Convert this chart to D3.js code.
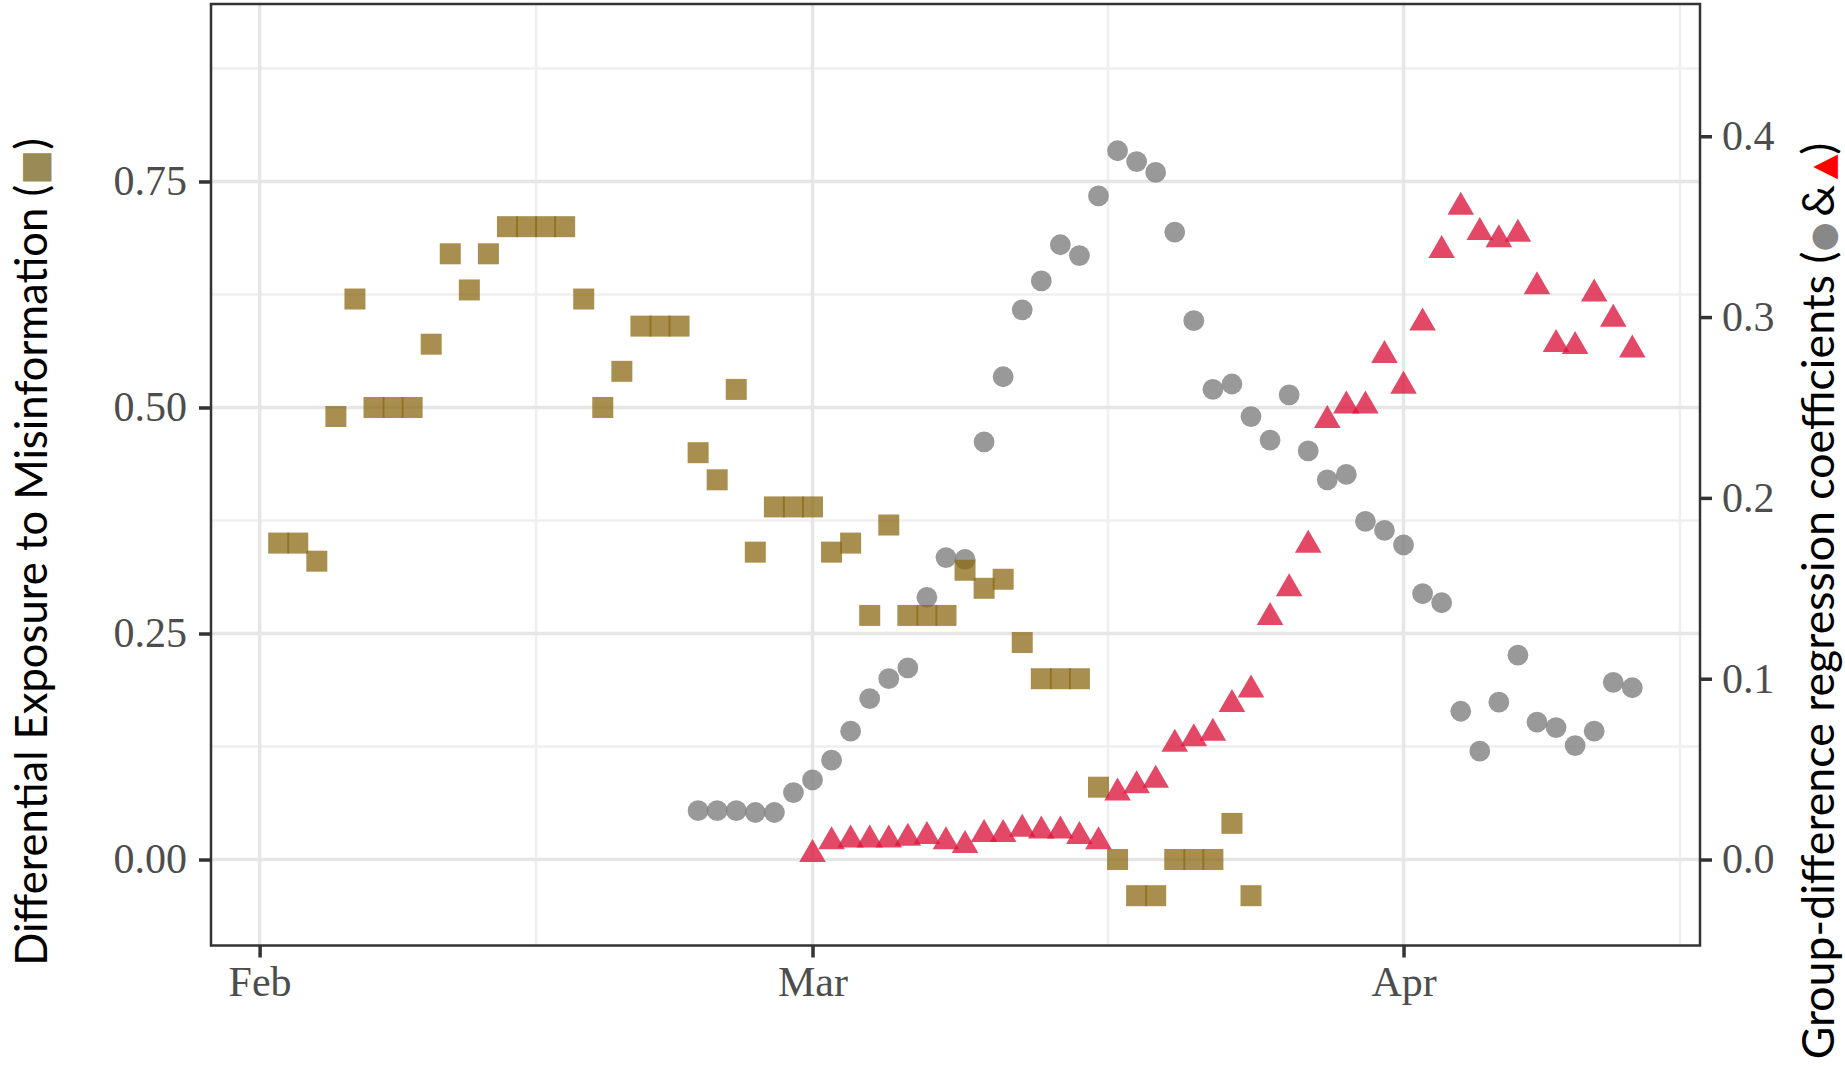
<!DOCTYPE html>
<html>
<head>
<meta charset="utf-8">
<script src="https://cdn.jsdelivr.net/npm/d3@7"></script>
<style>
  body { margin: 0; background: #fff; }
  svg { display: block; }
</style>
</head>
<body>
<div id="chart"></div>
<script>

// ---- data (one point per day) ----
var exposureStart = "2020-02-02";
var exposureValues = [0.35, 0.35, 0.33, 0.49, 0.62, 0.50, 0.50, 0.50, 0.57, 0.67,
    0.63, 0.67, 0.70, 0.70, 0.70, 0.70, 0.62, 0.50, 0.54, 0.59,
    0.59, 0.59, 0.45, 0.42, 0.52, 0.34, 0.39, 0.39, 0.39, 0.34,
    0.35, 0.27, 0.37, 0.27, 0.27, 0.27, 0.32, 0.30, 0.31, 0.24,
    0.20, 0.20, 0.20, 0.08, 0.00, -0.04, -0.04, 0.00, 0.00, 0.00,
    0.04, -0.04];

var greyCoefStart = "2020-02-24";
var greyCoefValues = [0.027, 0.027, 0.027, 0.026, 0.026, 0.037, 0.044, 0.055, 0.071, 0.089,
    0.100, 0.106, 0.145, 0.167, 0.166, 0.231, 0.267, 0.304, 0.320, 0.340,
    0.334, 0.367, 0.392, 0.386, 0.380, 0.347, 0.298, 0.260, 0.263, 0.245,
    0.232, 0.257, 0.226, 0.210, 0.213, 0.187, 0.182, 0.174, 0.147, 0.142,
    0.082, 0.060, 0.087, 0.113, 0.076, 0.073, 0.063, 0.071, 0.098, 0.095];

var redCoefStart = "2020-03-01";
var redCoefValues = [0.005, 0.012, 0.013, 0.013, 0.013, 0.014, 0.015, 0.012, 0.010, 0.016,
    0.016, 0.019, 0.018, 0.018, 0.015, 0.012, 0.039, 0.043, 0.046, 0.066,
    0.069, 0.072, 0.088, 0.096, 0.136, 0.152, 0.176, 0.245, 0.253, 0.253,
    0.281, 0.264, 0.299, 0.339, 0.363, 0.349, 0.345, 0.348, 0.319, 0.287,
    0.286, 0.315, 0.301, 0.284];

// axes / ticks
var xLimits = ["2020-01-29T10:48:00Z", "2020-04-16T13:12:00Z"];
var xTicks = ["2020-02-01", "2020-03-01", "2020-04-01"];
var xMinor = ["2020-02-15T12:00:00Z", "2020-03-16T12:00:00Z", "2020-04-15T12:00:00Z"];
var yLeftLimits = [-0.0951, 0.9463];
var yLeftTicks = [0, 0.25, 0.5, 0.75];
var yLeftMinor = [0.125, 0.375, 0.625, 0.875];
var yRightTicks = [0, 0.1, 0.2, 0.3, 0.4];
var secAxisFactor = 0.5;   // right axis = left axis * 0.5

var leftTitle = "Differential Exposure to Misinformation (";
var rightTitle = "Group-difference regression coefficients (";


var width = 1845, height = 1066;
var panel = { left: 211, right: 1700, top: 4, bottom: 945.5 };

var svg = d3.select("#chart").append("svg")
    .attr("width", width)
    .attr("height", height);

var parseIso = d3.isoParse;

function series(start, values) {
    var s = parseIso(start);
    return values.map(function(v, i) {
        return { date: d3.utcDay.offset(s, i), value: v };
    });
}

var exposure = series(exposureStart, exposureValues);
var greyCoef = series(greyCoefStart, greyCoefValues);
var redCoef = series(redCoefStart, redCoefValues);

var x = d3.scaleUtc()
    .domain(xLimits.map(parseIso))
    .range([panel.left, panel.right]);

var y = d3.scaleLinear()
    .domain(yLeftLimits)
    .range([panel.bottom, panel.top]);

var yRight = d3.scaleLinear()
    .domain(yLeftLimits.map(function(d) { return d * secAxisFactor; }))
    .range([panel.bottom, panel.top]);

// grid
var grid = svg.append("g");
grid.selectAll(".hminor").data(yLeftMinor).enter().append("line")
    .attr("x1", panel.left).attr("x2", panel.right)
    .attr("y1", function(d) { return y(d); }).attr("y2", function(d) { return y(d); })
    .attr("stroke", "#efefef").attr("stroke-width", 2.5);
grid.selectAll(".vminor").data(xMinor).enter().append("line")
    .attr("y1", panel.top).attr("y2", panel.bottom)
    .attr("x1", function(d) { return x(parseIso(d)); }).attr("x2", function(d) { return x(parseIso(d)); })
    .attr("stroke", "#efefef").attr("stroke-width", 2.5);
grid.selectAll(".hmajor").data(yLeftTicks).enter().append("line")
    .attr("x1", panel.left).attr("x2", panel.right)
    .attr("y1", function(d) { return y(d); }).attr("y2", function(d) { return y(d); })
    .attr("stroke", "#e6e6e6").attr("stroke-width", 3.5);
grid.selectAll(".vmajor").data(xTicks).enter().append("line")
    .attr("y1", panel.top).attr("y2", panel.bottom)
    .attr("x1", function(d) { return x(parseIso(d)); }).attr("x2", function(d) { return x(parseIso(d)); })
    .attr("stroke", "#e6e6e6").attr("stroke-width", 3.5);

// points
var circleSym = d3.symbol().type(d3.symbolCircle).size(Math.PI * 10.4 * 10.4);
var squareSym = d3.symbol().type(d3.symbolSquare).size(21 * 21);
// triangle centred on its bounding box
var triPath = "M0,-11.5L13.3,11.5L-13.3,11.5Z";

svg.append("g").selectAll("path").data(greyCoef).enter().append("path")
    .attr("d", circleSym)
    .attr("transform", function(d) { return "translate(" + x(d.date) + "," + yRight(d.value) + ")"; })
    .attr("fill", "#7f7f7f")
    .attr("fill-opacity", 0.8);

svg.append("g").selectAll("path").data(exposure).enter().append("path")
    .attr("d", squareSym)
    .attr("transform", function(d) { return "translate(" + x(d.date) + "," + y(d.value) + ")"; })
    .attr("fill", "#8b6914")
    .attr("fill-opacity", 0.75);

svg.append("g").selectAll("path").data(redCoef).enter().append("path")
    .attr("d", triPath)
    .attr("transform", function(d) { return "translate(" + x(d.date) + "," + yRight(d.value) + ")"; })
    .attr("fill", "#dc143c")
    .attr("fill-opacity", 0.78);

// panel border
svg.append("rect")
    .attr("x", panel.left).attr("y", panel.top)
    .attr("width", panel.right - panel.left)
    .attr("height", panel.bottom - panel.top)
    .attr("fill", "none")
    .attr("stroke", "#333")
    .attr("stroke-width", 2.5);

// axes
function styleAxis(g) {
    g.select(".domain").remove();
    g.selectAll(".tick line").attr("stroke", "#333").attr("stroke-width", 3.5);
    g.selectAll(".tick text")
        .attr("fill", "#4d4d4d")
        .attr("font-family", "'Liberation Serif', 'DejaVu Serif', serif")
        .attr("font-size", 42);
}

svg.append("g")
    .attr("transform", "translate(" + panel.left + ",0)")
    .call(d3.axisLeft(y).tickValues(yLeftTicks).tickFormat(d3.format(".2f"))
        .tickSize(12).tickPadding(12))
    .call(styleAxis);

svg.append("g")
    .attr("transform", "translate(" + panel.right + ",0)")
    .call(d3.axisRight(yRight).tickValues(yRightTicks).tickFormat(d3.format(".1f"))
        .tickSize(12).tickPadding(10))
    .call(styleAxis);

var xAxisG = svg.append("g")
    .attr("transform", "translate(0," + panel.bottom + ")")
    .call(d3.axisBottom(x).tickValues(xTicks.map(parseIso)).tickFormat(d3.utcFormat("%b"))
        .tickSize(12).tickPadding(12))
    .call(styleAxis);
xAxisG.selectAll(".tick text").attr("y", 50).attr("dy", 0);

// axis titles (rotated, with coloured legend glyphs)
var titleFont = "Lato, 'Open Sans', 'DejaVu Sans', sans-serif";
var glyphFont = "'DejaVu Sans', sans-serif";

var lt = svg.append("text")
    .attr("transform", "translate(47,552) rotate(-90)")
    .attr("text-anchor", "middle")
    .attr("font-family", titleFont)
    .attr("font-size", 44)
    .attr("fill", "#000");
lt.append("tspan").text(leftTitle);
lt.append("tspan").attr("fill", "#9a8a55").attr("font-family", glyphFont)
    .attr("font-size", "0.85em").text("\u25A0");
lt.append("tspan").text(")");

var rt = svg.append("text")
    .attr("transform", "translate(1834,601) rotate(-90)")
    .attr("text-anchor", "middle")
    .attr("font-family", titleFont)
    .attr("font-size", 44)
    .attr("fill", "#000");
rt.append("tspan").text(rightTitle);
rt.append("tspan").attr("fill", "#888888").attr("font-family", glyphFont)
    .attr("font-size", "0.75em").text("\u25CF");
rt.append("tspan").text("\u2009&\u2009");
rt.append("tspan").attr("fill", "#ff0000").attr("font-family", glyphFont)
    .attr("font-size", "0.72em").text("\u25B2");
rt.append("tspan").text(")");

// scale each title so its length matches the figure
function fitLength(t, target) {
    var len = t.node().getComputedTextLength();
    var fs = parseFloat(t.attr("font-size"));
    t.attr("font-size", fs * target / len);
}
fitLength(lt, 828);
fitLength(rt, 917);

</script>
</body>
</html>
